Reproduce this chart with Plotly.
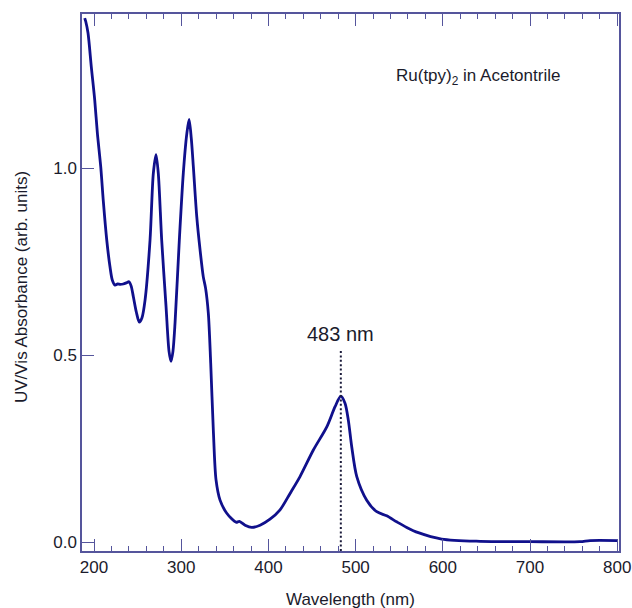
import plotly.graph_objects as go

# UV/Vis spectrum of Ru(tpy)2 in acetonitrile
wavelength_nm = [
    189.3, 190.5, 193.1, 196.9, 200.8, 203.8, 207.7, 210.7, 214.6, 218.3,
    221.0, 224.1, 227.0, 230.0, 233.6, 237.0, 240.1, 242.5, 245.1, 248.5,
    251.9, 255.0, 258.5, 264.2, 268.0, 271.1, 273.7, 277.6, 282.6, 286.0,
    288.3, 290.5, 292.9, 297.8, 302.4, 306.3, 309.0, 311.5, 313.9, 317.8,
    321.6, 325.3, 327.9, 331.1, 333.8, 336.8, 339.9, 344.5, 352.2, 362.8,
    366.6, 373.2, 380.8, 390.4, 401.8, 413.3, 424.8, 436.2, 451.5, 466.9,
    476.4, 483.0, 487.8, 491.6, 495.5, 501.3, 512.7, 524.2, 535.6, 547.1,
    558.6, 571.9, 598.7, 642.6, 700.0, 757.3, 768.8, 800.0,
]
absorbance = [
    1.401, 1.392, 1.361, 1.270, 1.182, 1.094, 1.003, 0.910, 0.807, 0.736,
    0.700, 0.687, 0.690, 0.689, 0.690, 0.693, 0.696, 0.685, 0.656, 0.615,
    0.588, 0.600, 0.647, 0.807, 0.986, 1.036, 0.986, 0.807, 0.629, 0.510,
    0.483, 0.510, 0.586, 0.807, 0.987, 1.090, 1.130, 1.080, 1.003, 0.870,
    0.781, 0.709, 0.679, 0.611, 0.478, 0.299, 0.166, 0.112, 0.077, 0.053,
    0.055, 0.045, 0.039, 0.045, 0.061, 0.086, 0.130, 0.175, 0.246, 0.308,
    0.362, 0.390, 0.371, 0.326, 0.255, 0.175, 0.112, 0.081, 0.070, 0.054,
    0.039, 0.025, 0.008, 0.002, 0.001, 0.001, 0.004, 0.004,
]

# MLCT band maximum, marked with a dotted guide
peak_nm = 483
peak_marker_top = 0.516
peak_label = f"{peak_nm} nm"

x_range = [186.2, 802.0]
y_range = [-0.024, 1.412]
y_ticks = [0.0, 0.5, 1.0]

axis_color = "#55559c"
line_color = "#10108c"
text_color = "#1b1b2b"
font_family = "Liberation Sans, Arial, sans-serif"

fig = go.Figure()

fig.add_trace(go.Scatter(
    x=wavelength_nm, y=absorbance, mode="lines",
    line=dict(color=line_color, width=2.8, shape="spline", smoothing=0.8),
    hoverinfo="x+y", showlegend=False,
))

fig.add_trace(go.Scatter(
    x=[peak_nm, peak_nm], y=[y_range[0], peak_marker_top], mode="lines",
    line=dict(color="#1a1a3a", width=2, dash="2px,2.4px"),
    hoverinfo="skip", showlegend=False,
))

fig.add_annotation(
    x=peak_nm, y=peak_marker_top, xref="x", yref="y",
    text=peak_label, showarrow=False, xanchor="center", yanchor="bottom",
    yshift=2, font=dict(size=20, color=text_color, family=font_family),
)

fig.add_annotation(
    x=544, y=1.243, xref="x", yref="y",
    text="Ru(tpy)<sub>2</sub> in Acetontrile", showarrow=False,
    xanchor="left", yanchor="middle",
    font=dict(size=17, color=text_color, family=font_family),
)

# axis titles
fig.add_annotation(
    x=0, y=0.4916, xref="paper", yref="paper", xshift=-61,
    text="UV/Vis Absorbance (arb. units)", textangle=-90, showarrow=False,
    xanchor="center", yanchor="middle",
    font=dict(size=17, color=text_color, family=font_family),
)
fig.add_annotation(
    x=0.5, y=0, xref="paper", yref="paper", yshift=-48,
    text="Wavelength (nm)", showarrow=False,
    xanchor="center", yanchor="middle",
    font=dict(size=17, color=text_color, family=font_family),
)

fig.update_layout(
    width=632, height=608,
    margin=dict(l=82, r=13, t=14, b=57, autoexpand=False),
    paper_bgcolor="white", plot_bgcolor="white",
    font=dict(family=font_family, size=17, color=text_color),
    xaxis=dict(
        range=x_range, dtick=100, tick0=0, automargin=False,
        showgrid=False, zeroline=False,
        showline=True, linecolor=axis_color, linewidth=1.5, mirror="ticks",
        ticks="inside", ticklen=12, tickwidth=1.3, tickcolor=axis_color,
        minor=dict(dtick=20, tick0=0, ticks="inside", ticklen=5,
                   tickwidth=1.1, tickcolor=axis_color, showgrid=False),
        tickfont=dict(size=17, color=text_color),
    ),
    yaxis=dict(
        range=y_range, tickvals=y_ticks, tickformat=".1f", automargin=False,
        showgrid=False, zeroline=False,
        showline=True, linecolor=axis_color, linewidth=1.5, mirror=True,
        ticks="inside", ticklen=12, tickwidth=1.3, tickcolor=axis_color,
        tickfont=dict(size=17, color=text_color),
    ),
)

fig.write_html("out.html")
